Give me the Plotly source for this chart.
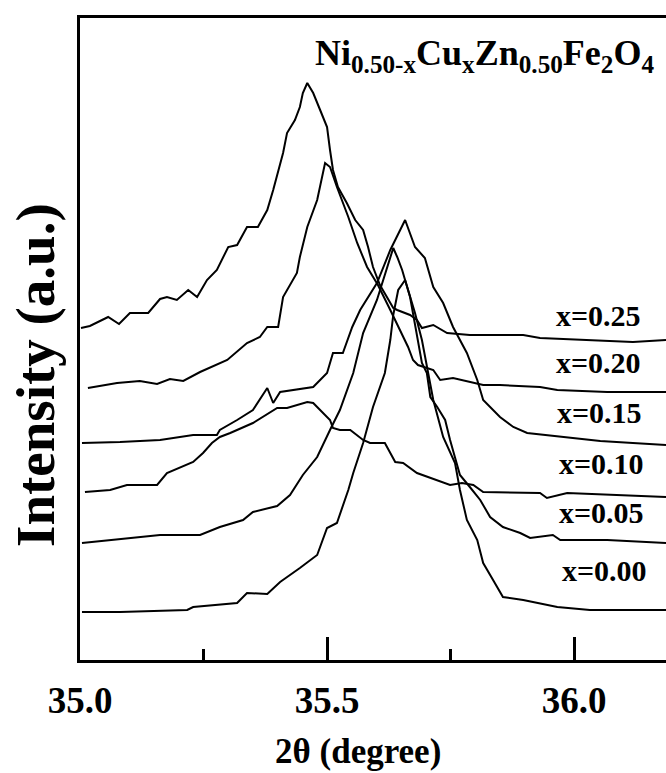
import plotly.graph_objects as go

# ---------------- data (2theta in degrees, intensity in arbitrary units) -------------
tt_025 = [35.002,35.020,35.057,35.079,35.101,35.138,35.162,35.176,35.196,35.219,35.237,35.257,35.277,35.300,35.318,35.338,35.360,35.379,35.391,35.411,35.419,35.435,35.445,35.451,35.460,35.472,35.486,35.500,35.506,35.512,35.522,35.540,35.557,35.573,35.583,35.593,35.607,35.634,35.642,35.668,35.682,35.692,35.715,35.743,35.789,35.897,35.931,36.032,36.119,36.186]
int_025 = [332,334,343,336,347,347,361,363,360,370,363,380,390,413,415,433,433,450,470,507,527,540,553,567,577,567,550,533,510,490,473,457,440,430,413,393,375,352,350,345,340,332,335,327,325,325,322,320,318,320]

tt_020 = [35.016,35.075,35.121,35.156,35.182,35.209,35.243,35.298,35.338,35.364,35.379,35.401,35.411,35.425,35.439,35.445,35.460,35.480,35.496,35.506,35.520,35.543,35.561,35.581,35.603,35.628,35.648,35.664,35.674,35.684,35.715,35.729,35.755,35.789,35.816,35.850,35.931,35.966,36.067,36.186]
int_020 = [272,277,279,276,281,279,288,300,317,323,333,333,363,375,387,403,433,460,497,493,473,443,417,393,375,350,330,313,300,295,290,280,282,278,275,275,273,270,268,268]

tt_015 = [35.004,35.081,35.162,35.229,35.277,35.283,35.318,35.350,35.379,35.391,35.405,35.472,35.500,35.512,35.532,35.551,35.567,35.601,35.628,35.648,35.658,35.678,35.698,35.715,35.735,35.755,35.783,35.804,35.816,35.850,35.877,35.905,35.986,36.053,36.119,36.186]
int_015 = [217,218,220,225,225,230,240,250,272,257,268,273,287,307,307,333,350,377,410,430,440,413,402,373,357,333,307,280,260,243,233,227,223,219,217,215]

tt_010 = [35.010,35.061,35.095,35.156,35.176,35.229,35.249,35.267,35.283,35.304,35.350,35.399,35.419,35.460,35.472,35.506,35.512,35.526,35.547,35.573,35.587,35.617,35.638,35.654,35.682,35.709,35.749,35.773,35.796,35.816,35.931,35.945,35.986,36.186]
int_010 = [168,170,175,175,187,198,207,217,223,227,237,252,252,258,257,240,232,230,230,220,217,217,198,197,187,182,175,177,175,168,167,162,167,163]

tt_005 = [35.004,35.095,35.162,35.243,35.283,35.330,35.350,35.399,35.425,35.451,35.480,35.506,35.526,35.553,35.573,35.601,35.634,35.642,35.652,35.668,35.684,35.692,35.702,35.709,35.723,35.739,35.749,35.759,35.769,35.789,35.810,35.830,35.856,35.891,35.911,35.957,35.972,36.067,36.186]
int_005 = [117,122,125,125,133,140,148,154,165,185,203,230,250,287,327,360,412,403,390,363,320,297,287,263,253,240,220,203,185,173,160,143,133,127,122,125,120,120,117]

tt_000 = [35.004,35.081,35.217,35.229,35.318,35.338,35.379,35.405,35.445,35.480,35.500,35.520,35.543,35.553,35.573,35.593,35.617,35.628,35.634,35.644,35.658,35.668,35.678,35.692,35.704,35.715,35.735,35.759,35.769,35.783,35.804,35.816,35.836,35.856,35.897,35.966,36.032,36.186]
int_000 = [48,48,50,53,57,67,66,78,92,105,132,137,170,187,217,253,287,320,345,370,380,363,347,320,287,260,223,197,170,140,120,97,80,63,60,53,50,50]

series_labels = ["x=0.25", "x=0.20", "x=0.15", "x=0.10", "x=0.05", "x=0.00"]
tick_values = [35.0, 35.5, 36.0]
tick_text = ["35.0", "35.5", "36.0"]

series = [(tt_025, int_025), (tt_020, int_020), (tt_015, int_015),
          (tt_010, int_010), (tt_005, int_005), (tt_000, int_000)]

FONT = "Liberation Serif"

fig = go.Figure()
for (xs, ys), name in zip(series, series_labels):
    fig.add_trace(go.Scatter(x=xs, y=ys, mode="lines", name=name,
                             line=dict(color="black", width=2)))

# label placement (style): left edge in 2theta, vertical centre in intensity units
label_x = [35.960, 35.960, 35.962, 35.966, 35.966, 35.972]
label_y = [345, 298, 248, 197, 148, 90]
for name, lx, ly in zip(series_labels, label_x, label_y):
    fig.add_annotation(x=lx, y=ly, xref="x", yref="y", text=name, showarrow=False,
                       xanchor="left", yanchor="middle",
                       font=dict(family=FONT, size=30, color="black", weight="bold"))

fig.add_annotation(x=0.983, y=0.942, xref="paper", yref="paper",
                   text="Ni<sub>0.50-x</sub>Cu<sub>x</sub>Zn<sub>0.50</sub>Fe<sub>2</sub>O<sub>4</sub>",
                   showarrow=False, xanchor="right", yanchor="middle",
                   font=dict(family=FONT, size=36, color="black", weight="bold"))

fig.add_annotation(x=0.474, y=-0.142, xref="paper", yref="paper", text="2θ (degree)",
                   showarrow=False, xanchor="center", yanchor="middle",
                   font=dict(family=FONT, size=35, color="black", weight="bold"))

fig.add_annotation(x=-0.075, y=0.444, xref="paper", yref="paper", text="Intensity (a.u.)",
                   showarrow=False, textangle=-90, xanchor="center", yanchor="middle",
                   font=dict(family=FONT, size=55, color="black", weight="bold"))

fig.update_layout(
    width=666, height=773,
    margin=dict(l=80, r=0, t=18, b=113),
    paper_bgcolor="white", plot_bgcolor="white",
    showlegend=False,
    xaxis=dict(range=[35.0, 36.186], showline=True, linecolor="black", linewidth=3,
               mirror=True, showgrid=False, zeroline=False,
               tickvals=tick_values, ticktext=tick_text, ticks="inside",
               ticklen=23, tickwidth=3, tickcolor="black", ticklabelstandoff=6,
               tickfont=dict(family=FONT, size=37, color="black", weight="bold"),
               minor=dict(dtick=0.25, tick0=35.0, ticks="inside", ticklen=11,
                          tickwidth=3, tickcolor="black", showgrid=False)),
    yaxis=dict(range=[0, 642], showline=True, linecolor="black", linewidth=3,
               mirror=False, showgrid=False, zeroline=False,
               showticklabels=False, ticks=""),
)

fig.write_html("out.html")
